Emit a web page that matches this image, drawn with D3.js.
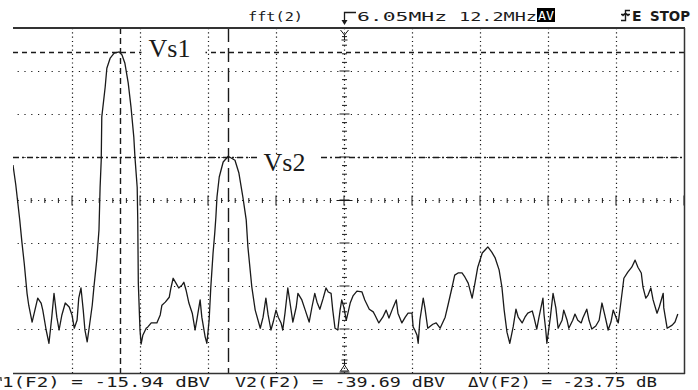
<!DOCTYPE html>
<html><head><meta charset="utf-8">
<script src="https://cdn.jsdelivr.net/npm/d3@7"></script>
<style>body{margin:0;background:#fff;} svg{display:block;}</style>
</head><body>
<svg id="c" width="698" height="390"></svg>
<script>
// ---- data ----
const freqMHz = [0.16,0.21,0.28,0.32,0.36,0.41,0.44,0.50,0.55,0.60,0.66,0.69,0.75,0.80,0.85,0.89,0.94,0.98,1.03,1.09,
1.16,1.21,1.25,1.30,1.33,1.37,1.41,1.44,1.48,1.51,1.57,1.60,1.65,1.69,1.71,1.73,1.74,1.80,1.83,1.89,
1.96,2.05,2.10,2.15,2.21,2.26,2.31,2.33,2.37,2.38,2.39,2.42,2.44,2.47,2.53,2.56,2.62,2.72,2.78,2.81,
2.87,2.94,2.97,3.01,3.06,3.11,3.17,3.20,3.24,3.29,3.35,3.40,3.43,3.49,3.52,3.58,3.61,3.65,3.68,3.72,
3.75,3.77,3.79,3.83,3.90,3.99,4.11,4.18,4.25,4.31,4.34,4.41,4.47,4.56,4.61,4.66,4.70,4.75,4.79,4.84,
4.88,4.93,4.96,5.00,5.05,5.09,5.14,5.20,5.23,5.30,5.36,5.43,5.48,5.53,5.57,5.62,5.68,5.73,5.77,5.82,
5.85,5.89,5.94,5.98,6.01,6.05,6.09,6.12,6.16,6.21,6.28,6.37,6.42,6.50,6.57,6.60,6.67,6.74,6.80,6.85,
6.92,6.98,7.01,7.08,7.14,7.19,7.26,7.28,7.31,7.35,7.37,7.40,7.46,7.49,7.54,7.63,7.69,7.76,7.85,7.90,
7.97,8.02,8.08,8.15,8.20,8.26,8.33,8.38,8.43,8.51,8.56,8.61,8.68,8.74,8.81,8.86,8.90,8.95,9.00,9.06,
9.11,9.15,9.22,9.27,9.32,9.40,9.43,9.48,9.52,9.59,9.61,9.64,9.66,9.72,9.77,9.82,9.86,9.93,9.96,10.02,
10.05,10.12,10.16,10.21,10.27,10.30,10.37,10.41,10.46,10.53,10.59,10.64,10.69,10.75,10.80,10.84,10.89,10.93,11.00,11.03,
11.10,11.17,11.23,11.28,11.34,11.37,11.42,11.46,11.51,11.55,11.62,11.66,11.73,11.74,11.80,11.89,11.94,11.99];
const levelDBV = [-41.5,-46.0,-53.9,-59.1,-63.7,-70.5,-73.2,-77.0,-74.3,-71.6,-72.7,-74.3,-78.8,-81.8,-75.9,-70.5,-75.9,-78.8,-75.4,-72.7,
-73.6,-75.4,-78.4,-76.6,-71.6,-69.3,-74.3,-78.8,-81.5,-78.8,-73.2,-69.1,-63.0,-56.2,-46.5,-40.4,-30.6,-23.9,-19.6,-17.3,
-16.2,-15.9,-16.6,-18.4,-22.9,-28.4,-35.2,-39.7,-46.5,-53.9,-68.2,-78.8,-82.0,-80.0,-78.4,-78.1,-77.2,-77.2,-75.4,-73.2,
-72.5,-71.4,-69.3,-67.1,-68.2,-69.3,-68.6,-68.0,-69.8,-72.7,-75.0,-78.8,-76.6,-72.0,-75.9,-80.4,-81.8,-76.6,-69.1,-61.4,
-56.9,-53.3,-48.7,-44.2,-40.8,-39.5,-40.4,-43.3,-48.7,-53.9,-60.0,-69.1,-74.3,-78.4,-75.9,-71.6,-75.4,-78.8,-77.0,-74.3,
-75.9,-77.2,-78.8,-75.0,-69.3,-72.7,-77.0,-73.6,-70.5,-72.0,-74.3,-77.0,-73.6,-70.5,-72.5,-74.1,-71.6,-69.3,-70.2,-70.5,
-74.3,-78.4,-78.8,-74.3,-72.0,-73.8,-76.6,-75.0,-72.7,-71.1,-70.0,-70.2,-72.0,-74.1,-74.7,-75.4,-77.2,-75.9,-74.3,-76.1,
-73.8,-72.0,-75.0,-77.2,-75.9,-75.0,-75.0,-78.1,-78.8,-80.0,-81.8,-76.6,-71.6,-73.8,-78.4,-77.5,-77.2,-78.4,-75.9,-73.2,
-69.3,-66.4,-65.9,-65.9,-66.8,-68.2,-71.6,-68.2,-64.6,-61.4,-60.7,-60.0,-61.2,-62.5,-65.2,-69.1,-74.3,-79.3,-81.8,-78.1,
-74.1,-75.9,-77.2,-75.9,-75.0,-74.5,-75.9,-78.6,-75.9,-71.6,-75.4,-78.8,-81.8,-76.1,-70.5,-73.8,-78.4,-76.6,-74.3,-76.6,
-78.4,-76.6,-75.2,-76.6,-77.2,-76.1,-74.1,-76.6,-78.6,-77.9,-76.6,-72.7,-75.4,-78.8,-77.0,-74.3,-75.9,-77.2,-70.2,-67.1,
-65.7,-64.6,-63.0,-64.6,-65.9,-69.1,-71.6,-70.9,-69.3,-72.0,-75.0,-73.6,-70.5,-73.8,-78.4,-77.7,-77.0,-75.2];
const cursorFreqMHz = [2.06, 3.98];
const cursorLevelDBV = [-15.94, -39.69];
const cursorLabels = ["Vs1", "Vs2"];
const headerLabels = ["fft(2)", "6.05MHz", "12.2MHz", "AV", "E", "STOP"];
// first readout: its leading "V" is cropped off the left edge in the reference
const readouts = ["1(F2) = -15.94 dBV", "V2(F2) = -39.69 dBV", "\u0394V(F2) = -23.75 dB"];

// ---- scales ----
const W = 698, H = 390;
const svg = d3.select("#c");
svg.append("rect").attr("width", W).attr("height", H).attr("fill", "#fff");
const x = d3.scaleLinear().domain([0, 12.1]).range([4, 684]);
const y = d3.scaleLinear().domain([-10.5, -88.3]).range([28, 372]);
const gx = d3.scaleLinear().domain([0, 10]).range([4, 684]);
const gy = d3.scaleLinear().domain([0, 8]).range([28, 372]);
const L = 13, R = 684, T = 28, B = 373;
const ink = "#1a1a1a";

svg.append("clipPath").attr("id", "clip").append("rect")
  .attr("x", L).attr("y", T).attr("width", R - L).attr("height", B - T);
const plot = svg.append("g").attr("clip-path", "url(#clip)");

// dotted grid
const vIdx = d3.range(1, 10).filter(i => i !== 5);
const hIdx = d3.range(1, 8).filter(j => j !== 4);
plot.selectAll("line.vg").data(vIdx).join("line")
  .attr("x1", d => gx(d) + 0.5).attr("x2", d => gx(d) + 0.5)
  .attr("y1", T).attr("y2", B)
  .attr("stroke", ink).attr("stroke-width", 1.2).attr("stroke-dasharray", "1.2,3.1");
plot.selectAll("line.hg").data(hIdx).join("line")
  .attr("y1", d => gy(d) + 0.5).attr("y2", d => gy(d) + 0.5)
  .attr("x1", gx(0)).attr("x2", R)
  .attr("stroke", ink).attr("stroke-width", 1.2).attr("stroke-dasharray", "1.2,5.6");

// center axes with ticks
const cx = gx(5) + 0.5, cy = gy(4) + 0.5;
plot.append("line").attr("x1", cx).attr("x2", cx).attr("y1", T).attr("y2", B)
  .attr("stroke", ink).attr("stroke-width", 1.2).attr("stroke-dasharray", "1.2,3.1");
plot.append("line").attr("y1", cy).attr("y2", cy).attr("x1", gx(0)).attr("x2", R)
  .attr("stroke", ink).attr("stroke-width", 1.2).attr("stroke-dasharray", "1.2,5.6");
const vt = d3.range(0, 8 * 5 + 1).map(k => k / 5);
plot.selectAll("line.vt").data(vt).join("line")
  .attr("x1", d => cx - (Number.isInteger(d) ? 5 : 2.5)).attr("x2", d => cx + (Number.isInteger(d) ? 5 : 2.5))
  .attr("y1", d => gy(d)).attr("y2", d => gy(d))
  .attr("stroke", ink).attr("stroke-width", 1);
const ht = d3.range(0, 10 * 5 + 1).map(k => k / 5);
plot.selectAll("line.ht").data(ht).join("line")
  .attr("y1", d => cy - (Number.isInteger(d) ? 5 : 2.5)).attr("y2", d => cy + (Number.isInteger(d) ? 5 : 2.5))
  .attr("x1", d => gx(d)).attr("x2", d => gx(d))
  .attr("stroke", ink).attr("stroke-width", 1);
plot.append("line").attr("x1", cx - 8).attr("x2", cx + 8).attr("y1", cy).attr("y2", cy).attr("stroke", ink);

// cursors
const c1y = Math.round(y(cursorLevelDBV[0])) + 0.5;
const c2y = Math.round(y(cursorLevelDBV[1])) + 0.5;
plot.append("line").attr("x1", L).attr("x2", R).attr("y1", c1y).attr("y2", c1y)
  .attr("stroke", ink).attr("stroke-width", 1.3).attr("stroke-dasharray", "5,4");
plot.append("line").attr("x1", L).attr("x2", R).attr("y1", c2y).attr("y2", c2y)
  .attr("stroke", ink).attr("stroke-width", 1.3).attr("stroke-dasharray", "6,3,2,3");
const v1x = Math.round(x(cursorFreqMHz[0])) + 0.5;
const v2x = Math.round(x(cursorFreqMHz[1])) + 0.5;
plot.append("line").attr("x1", v1x).attr("x2", v1x).attr("y1", T).attr("y2", B)
  .attr("stroke", ink).attr("stroke-width", 1.4).attr("stroke-dasharray", "6,4");
plot.append("line").attr("x1", v2x).attr("x2", v2x).attr("y1", T).attr("y2", B)
  .attr("stroke", ink).attr("stroke-width", 1.4).attr("stroke-dasharray", "14,6");

// top / bottom markers on centre line
plot.append("path").attr("d", `M${cx-4},${T+2} L${cx},${T+7} L${cx+4},${T+2} M${cx},${T+7} L${cx},${T+12} M${cx-3},${T+12} L${cx+3},${T+12}`)
  .attr("fill", "none").attr("stroke", ink);
plot.append("path").attr("d", `M${cx-4},${B-2} L${cx},${B-8} L${cx+4},${B-2} Z M${cx},${B-8} L${cx},${B-13} M${cx-3},${B-13} L${cx+3},${B-13}`)
  .attr("fill", "none").attr("stroke", ink);

// trace
const pts = freqMHz.map((f, i) => [f, levelDBV[i]]);
plot.append("path").datum(pts)
  .attr("d", d3.line().x(d => x(d[0])).y(d => y(d[1])))
  .attr("fill", "none").attr("stroke", ink).attr("stroke-width", 1.3).attr("stroke-linejoin", "round");

// cursor labels with white background
const lab = [
  {t: cursorLabels[0], x: v1x + 28, y: c1y + 4, gx0: v1x + 21, gw: 64, ly: c1y},
  {t: cursorLabels[1], x: v2x + 35, y: c2y + 13, gx0: v2x + 29, gw: 63, ly: c2y}
];
lab.forEach(d => {
  plot.append("rect").attr("x", d.gx0).attr("y", d.ly - 3).attr("width", d.gw).attr("height", 6).attr("fill", "#fff");
  svg.append("text").attr("x", d.x).attr("y", d.y).text(d.t)
    .attr("font-family", "Liberation Serif, Times New Roman, serif").attr("font-size", 26).attr("fill", ink);
});

// frame
svg.append("line").attr("x1", L).attr("x2", R + 1).attr("y1", T).attr("y2", T).attr("stroke", "#333").attr("stroke-width", 2);
svg.append("line").attr("x1", R + 0.5).attr("x2", R + 0.5).attr("y1", T).attr("y2", B + 1).attr("stroke", "#333").attr("stroke-width", 1.5);
svg.append("line").attr("x1", L).attr("x2", R + 1).attr("y1", B + 0.5).attr("y2", B + 0.5).attr("stroke", "#333").attr("stroke-width", 1.5);

// header
const mono = "DejaVu Sans Mono, monospace";
const hdr = svg.append("g").attr("font-family", mono).attr("font-size", 13).attr("fill", ink);
hdr.append("text").attr("x", 248).attr("y", 21).attr("textLength", 55).attr("lengthAdjust", "spacingAndGlyphs").text(headerLabels[0]);
svg.append("path").attr("d", `M${cx},23 L${cx},12.5 L356,12.5`).attr("fill", "none").attr("stroke", ink).attr("stroke-width", 1.3);
svg.append("path").attr("d", `M${cx-3},20 L${cx},25 L${cx+3},20 Z`).attr("fill", ink);
hdr.append("text").attr("x", 357).attr("y", 21).attr("textLength", 90).attr("lengthAdjust", "spacingAndGlyphs").text(headerLabels[1]);
hdr.append("text").attr("x", 459).attr("y", 21).attr("textLength", 78).attr("lengthAdjust", "spacingAndGlyphs").text(headerLabels[2]);
svg.append("rect").attr("x", 537).attr("y", 8).attr("width", 18).attr("height", 14).attr("fill", "#000");
svg.append("text").attr("x", 538).attr("y", 20).attr("textLength", 16).attr("lengthAdjust", "spacingAndGlyphs")
  .attr("font-family", mono).attr("font-size", 12).attr("fill", "#fff").text(headerLabels[3]);
svg.append("path").attr("d", "M621,20.5 L625.5,20.5 L625.5,10.5 L630,10.5 M622.5,16 L625.5,13 L628.5,16 M621,14.5 L630,14.5")
  .attr("fill", "none").attr("stroke", ink).attr("stroke-width", 1.4);
svg.append("text").attr("x", 632).attr("y", 21).attr("font-family", "DejaVu Sans, sans-serif").attr("font-weight", "bold")
  .attr("font-size", 14).attr("fill", ink).text(headerLabels[4]);
svg.append("text").attr("x", 650).attr("y", 21).attr("textLength", 40).attr("lengthAdjust", "spacingAndGlyphs")
  .attr("font-family", "DejaVu Sans, sans-serif").attr("font-weight", "bold").attr("font-size", 14).attr("fill", ink).text(headerLabels[5]);

// readouts
svg.append("line").attr("x1", 0.8).attr("x2", 1.2).attr("y1", 377).attr("y2", 381).attr("stroke", ink).attr("stroke-width", 1.2);
const rd = [{x: 2, len: 208}, {x: 235, len: 210}, {x: 468, len: 189}];
svg.selectAll("text.rd").data(readouts).join("text")
  .attr("x", (d, i) => rd[i].x).attr("y", 387)
  .attr("textLength", (d, i) => rd[i].len).attr("lengthAdjust", "spacingAndGlyphs")
  .attr("font-family", mono).attr("font-size", 14).attr("fill", ink).text(d => d);
</script>
</body></html>
